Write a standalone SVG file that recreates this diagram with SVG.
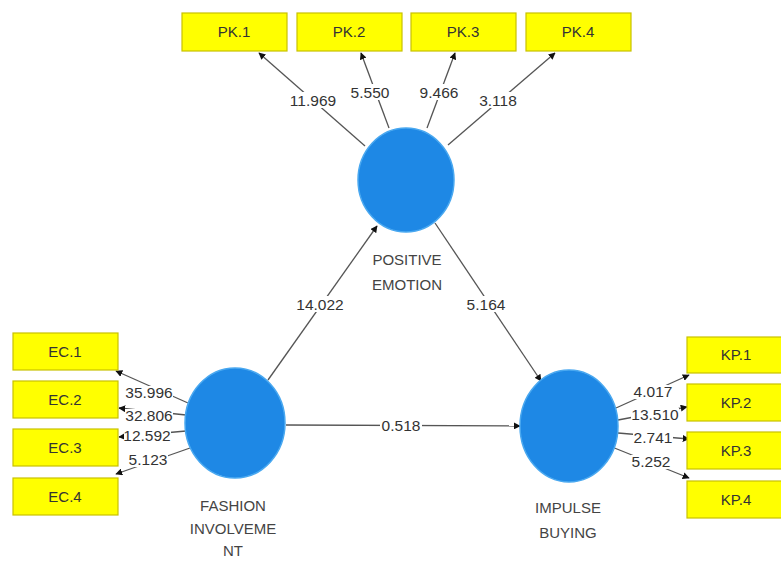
<svg xmlns="http://www.w3.org/2000/svg" width="781" height="562" viewBox="0 0 781 562">
<defs>
<marker id="ah" viewBox="0 0 10 10" refX="9" refY="5" markerWidth="7" markerHeight="7" orient="auto" markerUnits="userSpaceOnUse">
<path d="M0,0 L10,5 L0,10 z" fill="#111"/>
</marker>
<style>
.box{fill:#ffff00;stroke:#c9c200;stroke-width:1.2}
.bt{font-family:"Liberation Sans",Arial,sans-serif;font-size:15px;fill:#333;text-anchor:middle}
.lv{fill:#1e88e5;stroke:#49a8f0;stroke-width:1.5}
.lt{font-family:"Liberation Sans",Arial,sans-serif;font-size:15px;fill:#444;text-anchor:middle}
.ln{stroke:#555;stroke-width:1.3;fill:none;marker-end:url(#ah)}
.bg{fill:#fff}
.num{font-family:"Liberation Sans",Arial,sans-serif;font-size:15.5px;fill:#333;text-anchor:middle}
</style>
</defs>
<rect width="781" height="562" fill="#fff"/>
<g id="connectors">
<line class="ln" x1="365" y1="146" x2="259" y2="53"/>
<line class="ln" x1="389" y1="128" x2="361" y2="53"/>
<line class="ln" x1="427" y1="128" x2="455" y2="53"/>
<line class="ln" x1="448" y1="145" x2="555" y2="53"/>
<line class="ln" x1="268" y1="380" x2="377" y2="226"/>
<line class="ln" x1="435" y1="223" x2="541" y2="381"/>
<line class="ln" x1="286" y1="425" x2="520" y2="426"/>
<line class="ln" x1="188" y1="403" x2="116" y2="371"/>
<line class="ln" x1="186" y1="415" x2="119" y2="408"/>
<line class="ln" x1="186" y1="431" x2="119" y2="437"/>
<line class="ln" x1="190" y1="448" x2="116" y2="474"/>
<line class="ln" x1="616" y1="408" x2="689" y2="375"/>
<line class="ln" x1="618" y1="420" x2="687" y2="407"/>
<line class="ln" x1="618" y1="433" x2="689" y2="439"/>
<line class="ln" x1="612" y1="447" x2="689" y2="478"/>
<rect class="bg" x="288" y="92" width="50" height="16"/>
<rect class="bg" x="350" y="84" width="41" height="16"/>
<rect class="bg" x="419" y="84" width="41" height="16"/>
<rect class="bg" x="478" y="92" width="41" height="16"/>
<rect class="bg" x="295" y="296" width="50" height="16"/>
<rect class="bg" x="466" y="296" width="41" height="16"/>
<rect class="bg" x="380" y="418" width="42" height="16"/>
<rect class="bg" x="125" y="386" width="48" height="14"/>
<rect class="bg" x="125" y="409" width="48" height="14"/>
<rect class="bg" x="124" y="429" width="47" height="14"/>
<rect class="bg" x="128" y="453" width="40" height="14"/>
<rect class="bg" x="633" y="385" width="40" height="14"/>
<rect class="bg" x="631" y="408" width="48" height="14"/>
<rect class="bg" x="633" y="431" width="40" height="14"/>
<rect class="bg" x="631" y="455" width="40" height="14"/>
<text class="num" x="313" y="106">11.969</text>
<text class="num" x="370" y="98">5.550</text>
<text class="num" x="439" y="98">9.466</text>
<text class="num" x="498" y="106">3.118</text>
<text class="num" x="320" y="310">14.022</text>
<text class="num" x="486" y="310">5.164</text>
<text class="num" x="401" y="431">0.518</text>
<text class="num" x="149" y="398">35.996</text>
<text class="num" x="149" y="421">32.806</text>
<text class="num" x="147" y="441">12.592</text>
<text class="num" x="148" y="465">5.123</text>
<text class="num" x="653" y="397">4.017</text>
<text class="num" x="655" y="420">13.510</text>
<text class="num" x="653" y="443">2.741</text>
<text class="num" x="651" y="467">5.252</text>
</g>
<g id="PK1"><rect class="box" x="182" y="13" width="105" height="38"/><text class="bt" x="234" y="37">PK.1</text></g>
<g id="PK2"><rect class="box" x="297" y="13" width="105" height="38"/><text class="bt" x="349" y="37">PK.2</text></g>
<g id="PK3"><rect class="box" x="411" y="13" width="105" height="38"/><text class="bt" x="463" y="37">PK.3</text></g>
<g id="PK4"><rect class="box" x="526" y="13" width="105" height="38"/><text class="bt" x="578" y="37">PK.4</text></g>
<g id="EC1"><rect class="box" x="13" y="333" width="105" height="37"/><text class="bt" x="65" y="357">EC.1</text></g>
<g id="EC2"><rect class="box" x="13" y="381" width="105" height="37"/><text class="bt" x="65" y="405">EC.2</text></g>
<g id="EC3"><rect class="box" x="13" y="429" width="105" height="37"/><text class="bt" x="65" y="453">EC.3</text></g>
<g id="EC4"><rect class="box" x="13" y="478" width="105" height="37"/><text class="bt" x="65" y="502">EC.4</text></g>
<g id="KP1"><rect class="box" x="687" y="337" width="100" height="36"/><text class="bt" x="736" y="360">KP.1</text></g>
<g id="KP2"><rect class="box" x="687" y="384" width="100" height="37"/><text class="bt" x="736" y="408">KP.2</text></g>
<g id="KP3"><rect class="box" x="687" y="432" width="100" height="37"/><text class="bt" x="736" y="456">KP.3</text></g>
<g id="KP4"><rect class="box" x="687" y="481" width="100" height="37"/><text class="bt" x="736" y="505">KP.4</text></g>
<g id="positive"><ellipse class="lv" cx="406" cy="180" rx="48" ry="52"/><text class="lt" x="407" y="265">POSITIVE</text><text class="lt" x="407" y="290">EMOTION</text></g>
<g id="fashion"><ellipse class="lv" cx="235" cy="423" rx="50" ry="55"/><text class="lt" x="233" y="511">FASHION</text><text class="lt" x="233" y="534">INVOLVEME</text><text class="lt" x="233" y="556">NT</text></g>
<g id="impulse"><ellipse class="lv" cx="569" cy="426" rx="49" ry="56"/><text class="lt" x="568" y="513">IMPULSE</text><text class="lt" x="568" y="538">BUYING</text></g>
</svg>
